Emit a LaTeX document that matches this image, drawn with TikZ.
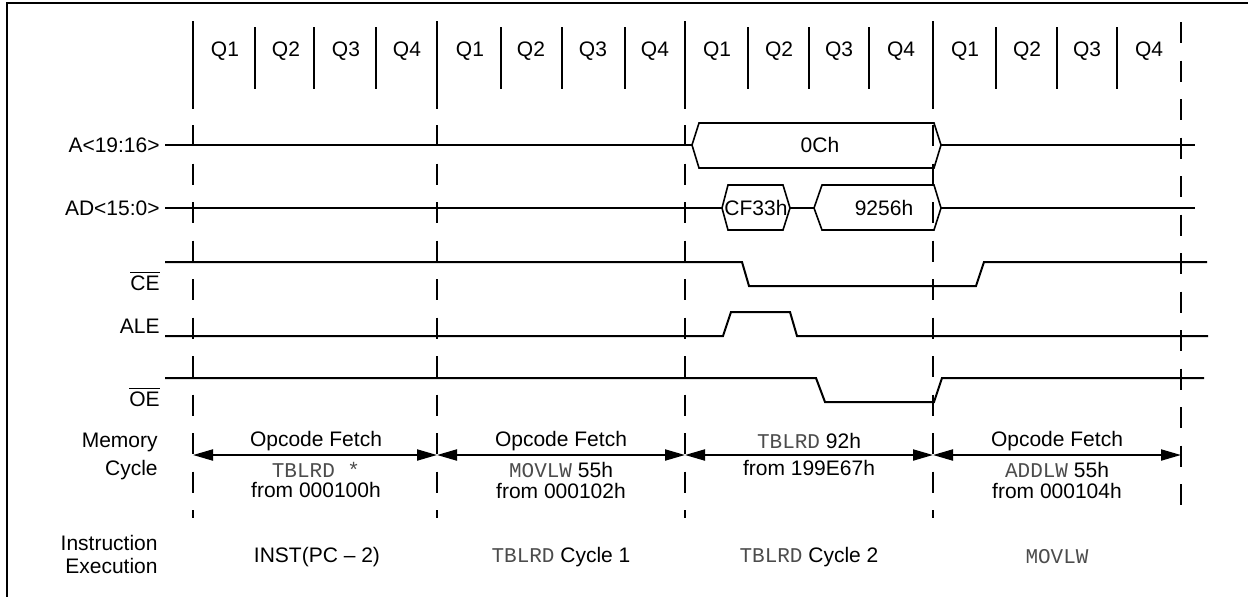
\documentclass[tikz,border=0pt]{standalone}
\usepackage{fontspec}
\setmainfont{Liberation Sans}
\setmonofont{Liberation Mono}
\usepackage{tikz}
\usetikzlibrary{arrows.meta}
\newcommand{\sigfont}{\fontsize{10.5}{12}\selectfont}
\newcommand{\mnem}[1]{\textcolor{black!70}{\texttt{#1}}}
\tikzset{
  frame/.style={line width=1.3pt},
  sig/.style={line width=1pt},
  bus/.style={line width=0.8pt},
  qsep/.style={line width=1pt},
  cycsep/.style={line width=1pt, dash pattern=on 10.5pt off 8.75pt},
  siglabel/.style={anchor=east, inner sep=0pt, font=\sigfont},
  qlabel/.style={inner sep=0pt, font=\sigfont},
  cyctext/.style={inner sep=0pt, font=\sigfont},
  rowlabel/.style={anchor=east, inner sep=0pt, align=right, font=\sigfont},
  cycarrow/.style={
    {Triangle[length=10pt,width=5.5pt]}-{Triangle[length=10pt,width=5.5pt]},
    line width=1pt
  }
}

\begin{document}
\begin{tikzpicture}[x=0.5pt, y=-0.5pt]
  \useasboundingbox (0,0) rectangle (1248,596);

  % Frame
  \draw[frame] (7,620) -- (7,3) -- (1270,3);

  % Clock quarters
  \draw[qsep] (193,21) -- (193,109);
  \draw[qsep] (437,21) -- (437,109);
  \draw[qsep] (685,21) -- (685,109);
  \draw[qsep] (933,21) -- (933,109);
  \draw[qsep] (255,27) -- (255,89);
  \draw[qsep] (314,27) -- (314,89);
  \draw[qsep] (376,27) -- (376,89);
  \draw[qsep] (501,27) -- (501,89);
  \draw[qsep] (562,27) -- (562,89);
  \draw[qsep] (625,27) -- (625,89);
  \draw[qsep] (748,27) -- (748,89);
  \draw[qsep] (809,27) -- (809,89);
  \draw[qsep] (869,27) -- (869,89);
  \draw[qsep] (996,27) -- (996,89);
  \draw[qsep] (1057,27) -- (1057,89);
  \draw[qsep] (1117,27) -- (1117,89);
  \node[qlabel] (q11) at (225,51) {Q1};
  \node[qlabel] (q12) at (286,51) {Q2};
  \node[qlabel] (q13) at (346,51) {Q3};
  \node[qlabel] (q14) at (407,51) {Q4};
  \node[qlabel] (q21) at (470,51) {Q1};
  \node[qlabel] (q22) at (531,51) {Q2};
  \node[qlabel] (q23) at (593,51) {Q3};
  \node[qlabel] (q24) at (655,51) {Q4};
  \node[qlabel] (q31) at (717,51) {Q1};
  \node[qlabel] (q32) at (779,51) {Q2};
  \node[qlabel] (q33) at (839,51) {Q3};
  \node[qlabel] (q34) at (901,51) {Q4};
  \node[qlabel] (q41) at (965,51) {Q1};
  \node[qlabel] (q42) at (1027,51) {Q2};
  \node[qlabel] (q43) at (1087,51) {Q3};
  \node[qlabel] (q44) at (1149,51) {Q4};

  % Cycle boundaries
  \draw[cycsep] (193,125) -- (193,518);
  \draw[cycsep] (437,125) -- (437,518);
  \draw[cycsep] (685,125) -- (685,518);
  \draw[cycsep] (933,125) -- (933,518);
  \draw[cycsep] (1181,22) -- (1181,518);

  % A<19:16>
  \node[siglabel] (lbla) at (160,145) {A<19:16>};
  \draw[sig] (165,145) -- (692,145);
  \draw[sig] (941,145) -- (1195,145);
  \draw[bus] (692,145) -- (699,123) -- (934,123) -- (941,145) -- (934,168) -- (699,168) -- cycle;
  \node[cyctext] (bus0c) at (820,145) {0Ch};

  % AD<15:0>
  \node[siglabel] (lblad) at (160,208) {AD<15:0>};
  \draw[sig] (165,208) -- (722,208);
  \draw[sig] (790,208) -- (814,208);
  \draw[sig] (941,208) -- (1195,208);
  \draw[bus] (722,208) -- (728,185) -- (783,185) -- (790,208) -- (783,230) -- (728,230) -- cycle;
  \draw[bus] (814,208) -- (822,185) -- (934,185) -- (941,208) -- (934,230) -- (822,230) -- cycle;
  \node[cyctext] (buscf) at (756,208) {CF33h};
  \node[cyctext] (bus92) at (884,208) {9256h};

  % CE
  \node[siglabel] (lblce) at (160,281) {$\overline{\mbox{CE}}$};
  \draw[sig] (165,262) -- (742,262) -- (749,286) -- (976,286) -- (984,262) -- (1207,262);

  % ALE
  \node[siglabel] (lblale) at (160,326) {ALE};
  \draw[sig] (165,336) -- (723,336) -- (731,312) -- (790,312) -- (797,336) -- (1208,336);

  % OE
  \node[siglabel] (lbloe) at (160,397) {$\overline{\mbox{OE}}$};
  \draw[sig] (165,378) -- (816,378) -- (825,402) -- (934,402) -- (942,378) -- (1204,378);

  % Memory cycles
  \node[rowlabel, font=\fontsize{10.5}{14}\selectfont] (lblmem) at (158,456) {Memory\\Cycle};
  \coordinate (m0) at (193,455);
  \coordinate (m1) at (437,455);
  \coordinate (m2) at (685,455);
  \coordinate (m3) at (933,455);
  \coordinate (m4) at (1181,455);
  \draw[cycarrow] (m0) -- (m1);
  \draw[cycarrow] (m1) -- (m2);
  \draw[cycarrow] (m2) -- (m3);
  \draw[cycarrow] (m3) -- (m4);
  \node[cyctext] (op1) at (316,441) {Opcode Fetch};
  \node[cyctext] (ins1) at (316,470) {\mnem{TBLRD *}};
  \node[cyctext] (adr1) at (316,490) {from 000100h};
  \node[cyctext] (op2) at (561,441) {Opcode Fetch};
  \node[cyctext] (ins2) at (561,470) {\mnem{MOVLW} 55h};
  \node[cyctext] (adr2) at (561,491) {from 000102h};
  \node[cyctext] (op3) at (809,441) {\mnem{TBLRD} 92h};
  \node[cyctext] (adr3) at (809,468) {from 199E67h};
  \node[cyctext] (op4) at (1057,441) {Opcode Fetch};
  \node[cyctext] (ins4) at (1057,470) {\mnem{ADDLW} 55h};
  \node[cyctext] (adr4) at (1057,491) {from 000104h};

  % Instruction execution
  \node[rowlabel, font=\fontsize{10.5}{11.5}\selectfont] (lblexe) at (158,554) {Instruction\\Execution};
  \node[cyctext] (exe1) at (317,557) {INST(PC -- 2)};
  \node[cyctext] (exe2) at (561,557) {\mnem{TBLRD} Cycle 1};
  \node[cyctext] (exe3) at (809,557) {\mnem{TBLRD} Cycle 2};
  \node[cyctext] (exe4) at (1057,557) {\mnem{MOVLW}};
\end{tikzpicture}
\end{document}
